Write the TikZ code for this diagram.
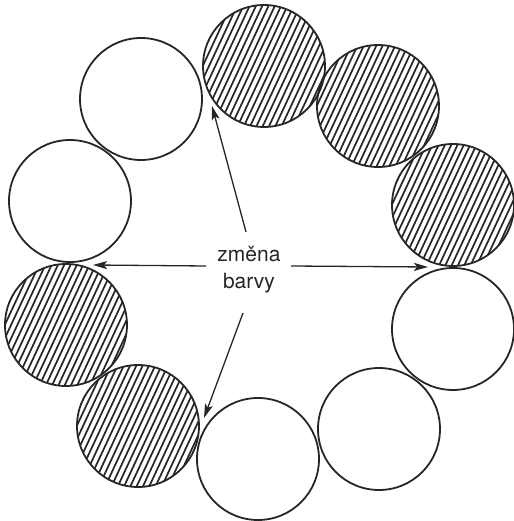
\documentclass[tikz,border=0pt]{standalone}
\usepackage{fontspec}
\setmainfont{TeX Gyre Heros}
\usetikzlibrary{arrows.meta}
\tikzset{
  disc/.style={draw=black!85, line width=1.8pt},
  hatchline/.style={black!85, line width=1.7pt},
  pointer/.style={draw=black!85, line width=1.3pt, -{Stealth[length=14pt,width=8pt,inset=3pt]}},
  label/.style={font=\fontsize{21}{27}\selectfont, align=center, text=black!85}
}
\newcommand{\hatchdisc}[2]{%
  \begin{scope}
    \clip (#1) circle (#2);
    \begin{scope}[shift={(#1)}, rotate=-25]
      \foreach \i in {-12,...,12} {
        \draw[hatchline] (\i*5.7+1.5, -70) -- (\i*5.7+1.5, 70);
      }
    \end{scope}
  \end{scope}
  \draw[disc] (#1) circle (#2);
}
\begin{document}
\begin{tikzpicture}[x=1pt,y=1pt]
  \useasboundingbox (0,0) rectangle (513,521);
  % circle centres
  \coordinate (c1) at (264,455);
  \coordinate (c2) at (378,415);
  \coordinate (c3) at (453,316);
  \coordinate (c4) at (453,192);
  \coordinate (c5) at (379,92);
  \coordinate (c6) at (258,62);
  \coordinate (c7) at (138,95);
  \coordinate (c8) at (66,196);
  \coordinate (c9) at (70,320);
  \coordinate (c10) at (141,422);
  % hatched discs
  \hatchdisc{c1}{61}
  \hatchdisc{c2}{61}
  \hatchdisc{c3}{61}
  \hatchdisc{c7}{61}
  \hatchdisc{c8}{61}
  % plain discs
  \draw[disc] (c4) circle (61);
  \draw[disc] (c5) circle (61);
  \draw[disc] (c6) circle (61);
  \draw[disc] (c9) circle (61);
  \draw[disc] (c10) circle (61);
  % label
  \node[label] (lab) at (249,251) {změna\\barvy};
  % arrow targets
  \coordinate (tUp) at (212,415);
  \coordinate (tLeft) at (93,256);
  \coordinate (tRight) at (428,254);
  \coordinate (tDown) at (204,103);
  \coordinate (sUp) at (246,289);
  \coordinate (sLeft) at (206,255);
  \coordinate (sRight) at (291,255);
  \coordinate (sDown) at (243,208);
  \draw[pointer] (sUp) -- (tUp);
  \draw[pointer] (sLeft) -- (tLeft);
  \draw[pointer] (sRight) -- (tRight);
  \draw[pointer] (sDown) -- (tDown);
\end{tikzpicture}
\end{document}
